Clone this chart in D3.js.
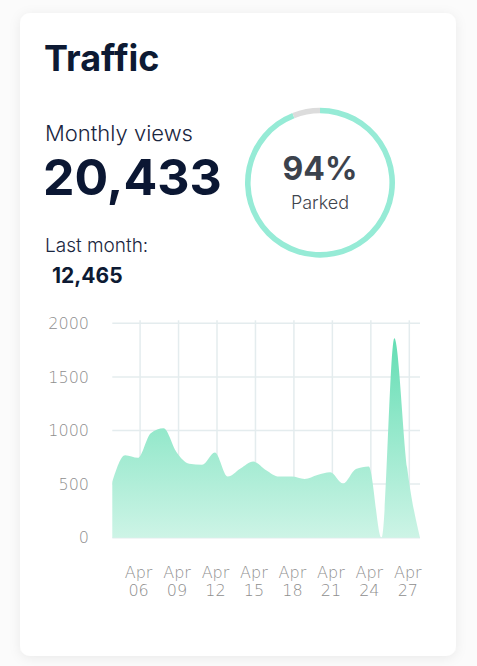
<!DOCTYPE html>
<html>
<head>
<meta charset="utf-8">
<script src="https://cdn.jsdelivr.net/npm/d3@7"></script>
<style>
  html, body { margin: 0; padding: 0; background: #ffffff; }
  svg { display: block; }
</style>
</head>
<body>
<svg id="chart" width="477" height="666"></svg>
<script>
// ---- data ----
const title = "Traffic";
const monthlyLabel = "Monthly views";
const monthlyValue = 20433;
const lastMonthLabel = "Last month:";
const lastMonthValue = 12465;
const parkedPct = 94;
const parkedLabel = "Parked";

const startDate = "2020-04-04"; // first day of series (UTC)
const dayValues = [520, 770, 745, 975, 1020, 800, 690, 680, 795, 570, 645, 710, 630, 570, 570, 548, 585, 610, 505, 640, 665, 0, 1860, 650, 0];
const yTicks = [0, 500, 1000, 1500, 2000];
const xTickDays = ["2020-04-06", "2020-04-09", "2020-04-12", "2020-04-15", "2020-04-18", "2020-04-21", "2020-04-24", "2020-04-27"];
const tzOffsetHours = 4; // local midnight = UTC + 4h

// ---- build ----
const parseUTC = d3.utcParse("%Y-%m-%d");
const t0 = parseUTC(startDate);
const series = dayValues.map((v, i) => ({ date: d3.utcDay.offset(t0, i), value: v }));
const tickDates = xTickDays.map(s => d3.utcHour.offset(parseUTC(s), tzOffsetHours));

const svg = d3.select("#chart");
const defs = svg.append("defs");

// card shadow
const f = defs.append("filter").attr("id", "shadow").attr("x", "-20%").attr("y", "-20%").attr("width", "140%").attr("height", "140%");
f.append("feDropShadow").attr("dx", 0).attr("dy", 2).attr("stdDeviation", 6).attr("flood-color", "#000").attr("flood-opacity", 0.07);

svg.append("rect").attr("width", 477).attr("height", 666).attr("fill", "#fbfbfb");
svg.append("rect")
  .attr("x", 20).attr("y", 13).attr("width", 436).attr("height", 643)
  .attr("rx", 10).attr("fill", "#ffffff").attr("filter", "url(#shadow)");

const darkFont = "Inter, 'Noto Sans', sans-serif";

svg.append("text").attr("x", 44).attr("y", 71)
  .attr("font-family", darkFont).attr("font-weight", 700).attr("font-size", 36)
  .attr("fill", "#0d1a33").text(title);

svg.append("text").attr("x", 45).attr("y", 141)
  .attr("font-family", darkFont).attr("font-weight", 300).attr("font-size", 22)
  .attr("fill", "#1a2640").text(monthlyLabel);

svg.append("text").attr("x", 43).attr("y", 195)
  .attr("font-family", darkFont).attr("font-weight", 700).attr("font-size", 50)
  .attr("fill", "#0b1733").text(d3.format(",")(monthlyValue));

svg.append("text").attr("x", 45).attr("y", 252)
  .attr("font-family", darkFont).attr("font-weight", 300).attr("font-size", 19)
  .attr("fill", "#1a2640").text(lastMonthLabel);

svg.append("text").attr("x", 52).attr("y", 283)
  .attr("font-family", darkFont).attr("font-weight", 700).attr("font-size", 21)
  .attr("fill", "#0d1a33").text(d3.format(",")(lastMonthValue));

// ---- donut ring ----
const cx = 320, cy = 182.7, rOuter = 75, ringW = 5.6;
const ring = svg.append("g").attr("transform", `translate(${cx},${cy})`);
const pie = d3.pie().sort(null).value(d => d.v);
const arcs = pie([{ k: "parked", v: parkedPct }, { k: "rest", v: 100 - parkedPct }]);
const arc = d3.arc().innerRadius(rOuter - ringW).outerRadius(rOuter);
ring.selectAll("path").data(arcs).join("path")
  .attr("d", arc)
  .attr("fill", d => d.data.k === "parked" ? "#96ebd6" : "#dcdcdc");

ring.append("text").attr("x", 0).attr("y", -3)
  .attr("text-anchor", "middle")
  .attr("font-family", darkFont).attr("font-weight", 700).attr("font-size", 32)
  .attr("fill", "#3c424c").text(parkedPct + "%");
ring.append("text").attr("x", 0).attr("y", 26)
  .attr("text-anchor", "middle")
  .attr("font-family", darkFont).attr("font-weight", 300).attr("font-size", 18)
  .attr("fill", "#3f444d").text(parkedLabel);

// ---- area chart ----
const x = d3.scaleUtc()
  .domain(d3.extent(series, d => d.date))
  .range([112.3, 420]);
const y = d3.scaleLinear().domain([0, 2000]).range([537.7, 323.3]);

const grad = defs.append("linearGradient").attr("id", "areaGrad")
  .attr("gradientUnits", "userSpaceOnUse")
  .attr("x1", 0).attr("x2", 0).attr("y1", y(2000)).attr("y2", y(0));
grad.append("stop").attr("offset", "0%").attr("stop-color", "#5cdcb0");
grad.append("stop").attr("offset", "100%").attr("stop-color", "#cdf4e6");

const gridColor = "#e4ecee";
const gGrid = svg.append("g");
gGrid.selectAll("line.h").data(yTicks).join("line").attr("class", "h")
  .attr("x1", x.range()[0]).attr("x2", x.range()[1])
  .attr("y1", d => y(d)).attr("y2", d => y(d))
  .attr("stroke", gridColor).attr("stroke-width", 1.5);
gGrid.selectAll("line.v").data(tickDates).join("line").attr("class", "v")
  .attr("x1", d => x(d)).attr("x2", d => x(d))
  .attr("y1", y(2000) - 3).attr("y2", y(0))
  .attr("stroke", gridColor).attr("stroke-width", 1.5);

const area = d3.area()
  .x(d => x(d.date))
  .y0(y(0))
  .y1(d => y(d.value))
  .curve(d3.curveMonotoneX);
svg.append("path").datum(series).attr("d", area).attr("fill", "url(#areaGrad)");

// y axis labels
const axisFont = "'DejaVu Sans', sans-serif";
const axisColor = "#8e8e8e";
const yAxis = d3.axisLeft(y).tickValues(yTicks).tickSize(0).tickPadding(0).tickFormat(d3.format("d"));
const gy = svg.append("g").attr("transform", "translate(89,0)").call(yAxis);
gy.select(".domain").remove();
gy.selectAll("text").attr("font-family", axisFont).attr("font-weight", 200).attr("font-size", 16)
  .attr("fill", axisColor);

// x axis labels
const fmtMon = d3.utcFormat("%b"), fmtDay = d3.utcFormat("%d");
const xAxis = d3.axisBottom(x).tickValues(tickDates).tickSize(0).tickFormat("");
const gx = svg.append("g").attr("transform", "translate(0,0)").call(xAxis);
gx.select(".domain").remove();
gx.selectAll(".tick").each(function(d) {
  const t = d3.select(this).append("text")
    .attr("text-anchor", "middle")
    .attr("font-family", axisFont).attr("font-weight", 200).attr("font-size", 16)
    .attr("fill", axisColor);
  t.append("tspan").attr("x", -2).attr("y", 578).text(fmtMon(d));
  t.append("tspan").attr("x", -2).attr("y", 596).text(fmtDay(d));
});
</script>
</body>
</html>
